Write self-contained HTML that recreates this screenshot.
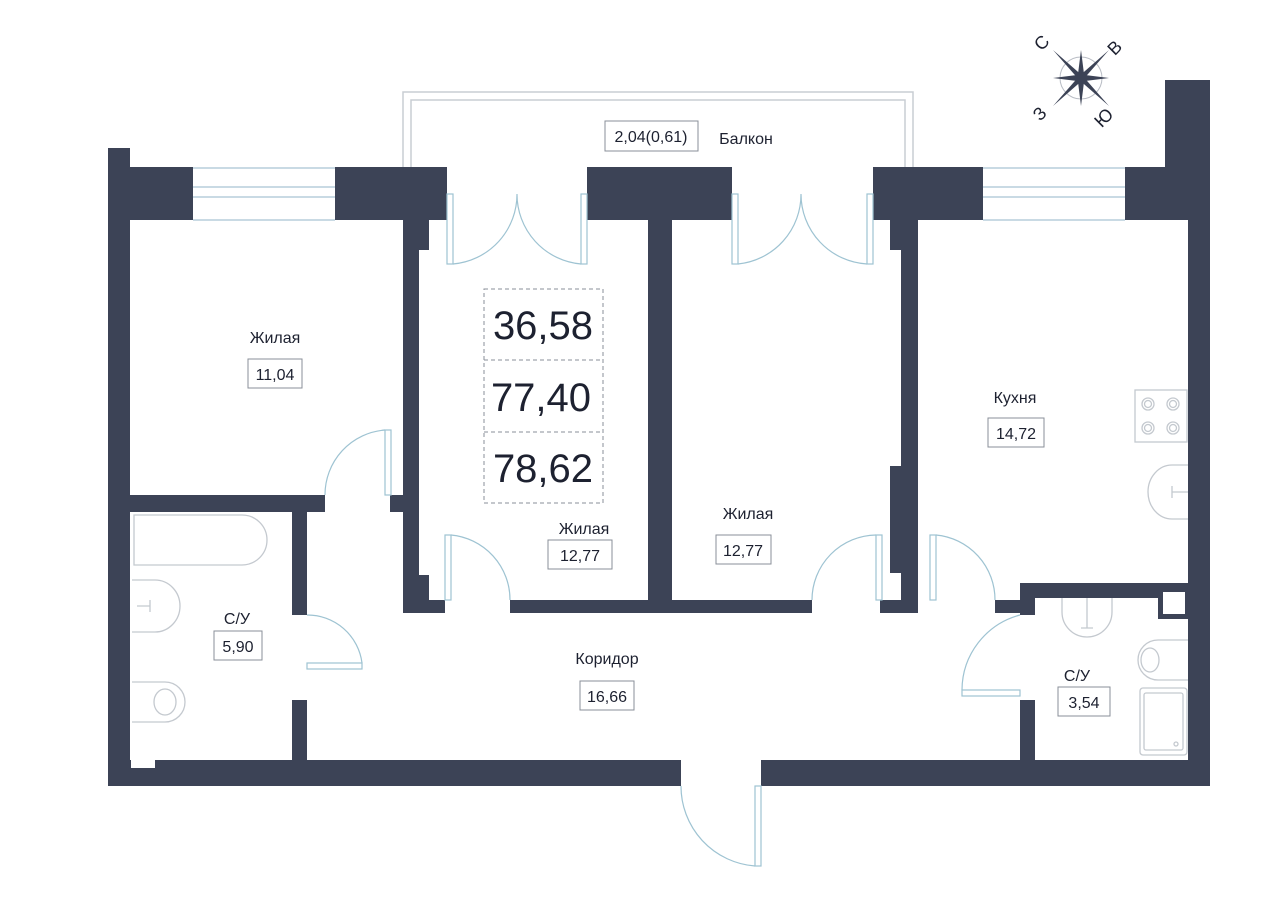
<!DOCTYPE html>
<html><head><meta charset="utf-8"><style>
html,body{margin:0;padding:0;background:#fff;width:1280px;height:904px;overflow:hidden}
svg{display:block}
text{font-family:"Liberation Sans",sans-serif;fill:#1d2130}
</style></head><body>
<svg width="1280" height="904" viewBox="0 0 1280 904" xmlns="http://www.w3.org/2000/svg">
<g fill="none" stroke="#c9cdd3" stroke-width="1.5">
<path d="M403 167 V92 H913 V167"/>
<path d="M411 167 V100 H905 V167"/>
</g>
<g stroke="#a9c4d4" stroke-width="1.2" fill="none">
<path d="M193 168 H335 M193 187 H335 M193 197 H335 M193 220 H335"/>
<path d="M983 168 H1125 M983 187 H1125 M983 197 H1125 M983 220 H1125"/>
</g>
<g fill="#3c4356">
<rect x="108" y="148" width="22" height="638"/>
<rect x="108" y="167" width="85" height="53"/>
<rect x="335" y="167" width="112" height="53"/>
<rect x="587" y="167" width="145" height="53"/>
<rect x="873" y="167" width="110" height="53"/>
<rect x="1125" y="167" width="63" height="53"/>
<rect x="1165" y="80" width="45" height="140"/>
<rect x="1188" y="80" width="22" height="706"/>
<rect x="108" y="760" width="573" height="26"/>
<rect x="761" y="760" width="449" height="26"/>
<rect x="130" y="495" width="195" height="17"/>
<rect x="292" y="512" width="15" height="103"/>
<rect x="292" y="700" width="15" height="60"/>
<rect x="403" y="220" width="16" height="393"/>
<rect x="419" y="220" width="10" height="30"/>
<rect x="390" y="495" width="13" height="17"/>
<rect x="419" y="575" width="10" height="38"/>
<rect x="403" y="600" width="42" height="13"/>
<rect x="510" y="600" width="138" height="13"/>
<rect x="648" y="220" width="24" height="393"/>
<rect x="672" y="600" width="140" height="13"/>
<rect x="901" y="220" width="17" height="393"/>
<rect x="890" y="220" width="11" height="30"/>
<rect x="890" y="466" width="11" height="107"/>
<rect x="880" y="600" width="38" height="13"/>
<rect x="995" y="600" width="25" height="13"/>
<rect x="1020" y="583" width="168" height="15"/>
<rect x="1158" y="583" width="30" height="36"/>
<rect x="1020" y="583" width="15" height="32"/>
<rect x="1020" y="700" width="15" height="60"/>
</g>
<rect x="1163" y="592" width="22" height="22" fill="#fff"/>
<rect x="131" y="752" width="24" height="16" fill="#fff"/>
<g fill="none" stroke="#9ec3d2" stroke-width="1.2">
<rect x="447" y="194" width="6" height="70"/><rect x="581" y="194" width="6" height="70"/>
<path d="M453 264 A70 70 0 0 0 517 194 A70 70 0 0 0 581 264"/>
<rect x="732" y="194" width="6" height="70"/><rect x="867" y="194" width="6" height="70"/>
<path d="M738 264 A70 70 0 0 0 801 194 A70 70 0 0 0 867 264"/>
<rect x="385" y="430" width="6" height="65"/>
<path d="M385 430 A65 65 0 0 0 325 495"/>
<rect x="445" y="535" width="6" height="65"/>
<path d="M451 535 A65 65 0 0 1 510 600"/>
<rect x="876" y="535" width="6" height="65"/>
<path d="M876 535 A65 65 0 0 0 812 600"/>
<rect x="930" y="535" width="6" height="65"/>
<path d="M936 535 A65 65 0 0 1 995 600"/>
<rect x="307" y="663" width="55" height="6"/>
<path d="M307 615 A55 55 0 0 1 362 663"/>
<rect x="962" y="690" width="58" height="6"/>
<path d="M1020 615 A78 78 0 0 0 962 690"/>
<rect x="755" y="786" width="6" height="80"/>
<path d="M681 786 A80 80 0 0 0 755 866"/>
</g>
<g fill="none" stroke="#c4c9cf" stroke-width="1.3">
<path d="M134 515 H242 A25 25 0 0 1 242 565 H134 Z"/>
<path d="M132 580 H155 A25 26 0 0 1 155 632 H132"/>
<path d="M137 606 H150 M150 600 V612"/>
<path d="M132 682 H165 A20 20 0 0 1 165 722 H132"/>
<ellipse cx="165" cy="702" rx="11" ry="13"/>
<rect x="1135" y="390" width="52" height="52"/>
<circle cx="1148" cy="404" r="6"/><circle cx="1148" cy="404" r="3.5"/>
<circle cx="1173" cy="404" r="6"/><circle cx="1173" cy="404" r="3.5"/>
<circle cx="1148" cy="428" r="6"/><circle cx="1148" cy="428" r="3.5"/>
<circle cx="1173" cy="428" r="6"/><circle cx="1173" cy="428" r="3.5"/>
<path d="M1188 465 H1172 A24 27 0 0 0 1172 519 H1188"/>
<path d="M1172 492 H1188 M1172 486 V498"/>
<path d="M1062 598 V612 A25 25 0 0 0 1112 612 V598"/>
<path d="M1087 598 V628 M1081 628 H1093"/>
<path d="M1188 640 H1158 A20 20 0 0 0 1158 680 H1188"/>
<ellipse cx="1150" cy="660" rx="9" ry="12"/>
<rect x="1140" y="688" width="47" height="67" rx="3"/>
<rect x="1144" y="693" width="39" height="57" rx="2"/>
<circle cx="1176" cy="744" r="2"/>
</g>
<g transform="translate(1081,78)">
<circle r="21" fill="none" stroke="#b8bcc4" stroke-width="1"/>
<g fill="#3c4356">
<polygon points="0,-3.5 -28,-28 -3.5,0 -28,28 0,3.5 28,28 3.5,0 28,-28" />
<polygon points="0,-28 3.5,0 0,28 -3.5,0"/>
<polygon points="-28,0 0,3.5 28,0 0,-3.5"/>
</g>
<text x="-35" y="-31" font-size="18" transform="rotate(-45 -35 -31)" text-anchor="middle">С</text>
<text x="38" y="-26" font-size="18" transform="rotate(-45 38 -26)" text-anchor="middle">В</text>
<text x="-37" y="40" font-size="18" transform="rotate(-45 -37 40)" text-anchor="middle">З</text>
<text x="27" y="44" font-size="18" transform="rotate(-45 27 44)" text-anchor="middle">Ю</text>
</g>
<g fill="none" stroke="#8a8f98" stroke-width="1" stroke-dasharray="4,3">
<rect x="484" y="289" width="119" height="214"/>
<path d="M484 360 H603 M484 432 H603"/>
</g>
<g font-size="40" text-anchor="middle">
<text x="543" y="339">36,58</text>
<text x="541" y="411">77,40</text>
<text x="543" y="482">78,62</text>
</g>
<g fill="#fff" stroke="#8a8f98" stroke-width="1">
<rect x="605" y="121" width="93" height="30"/>
<rect x="248" y="359" width="54" height="29"/>
<rect x="548" y="540" width="64" height="29"/>
<rect x="716" y="535" width="55" height="29"/>
<rect x="988" y="418" width="56" height="29"/>
<rect x="214" y="631" width="48" height="29"/>
<rect x="580" y="681" width="54" height="29"/>
<rect x="1058" y="687" width="52" height="29"/>
</g>
<g font-size="16" text-anchor="middle">
<text x="651" y="142">2,04(0,61)</text>
<text x="746" y="144">Балкон</text>
<text x="275" y="343">Жилая</text>
<text x="275" y="380">11,04</text>
<text x="584" y="534">Жилая</text>
<text x="580" y="561">12,77</text>
<text x="748" y="519">Жилая</text>
<text x="743" y="556">12,77</text>
<text x="1015" y="403">Кухня</text>
<text x="1016" y="439">14,72</text>
<text x="237" y="624">С/У</text>
<text x="238" y="652">5,90</text>
<text x="607" y="664">Коридор</text>
<text x="607" y="702">16,66</text>
<text x="1077" y="681">С/У</text>
<text x="1084" y="708">3,54</text>
</g>
</svg>
</body></html>
